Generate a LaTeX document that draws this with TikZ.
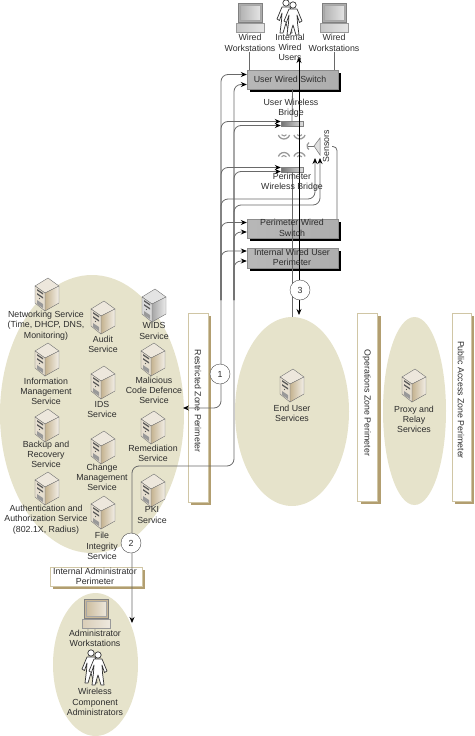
\documentclass[tikz,border=0pt]{standalone}
\usepackage{fontspec}
\setmainfont{Liberation Sans}
\usetikzlibrary{arrows.meta,shapes.geometric}

\definecolor{zonec}{RGB}{230,227,203}
\definecolor{tanc}{RGB}{178,158,112}
\definecolor{edgec}{RGB}{208,198,165}
\definecolor{linec}{RGB}{105,105,105}
\definecolor{textc}{RGB}{45,45,45}
\definecolor{cased}{RGB}{172,146,96}
\definecolor{caseg}{RGB}{128,128,128}

\tikzset{
  pics/server/.style={code={
    \fill[#1!22!white,draw=black!55,line width=.4pt] (-12,-8) -- (1,-16) -- (12,-8) -- (-2,-1) -- cycle;
    \shade[left color=#1!70!white,right color=#1!15!white,draw=black!55,line width=.4pt]
      (-2,-1) -- (12,-8) -- (12,9) -- (-2,17) -- cycle;
    \fill[#1!30!white,draw=black!55,line width=.4pt] (-12,-8) -- (-2,-1) -- (-2,17) -- (-12,9) -- cycle;
    \fill[black!65] (-10,-5) -- (-4,-1) -- (-4,.5) -- (-10,-3.5) -- cycle;
    \fill[black!65] (-10,-1) -- (-4,3) -- (-4,4.5) -- (-10,.5) -- cycle;
    \fill[black!65] (-7.5,4.5) circle (.7pt);
    \fill[black!40] (-10,6) -- (-4,10) -- (-4,14) -- (-10,10) -- cycle;
  }},
  pics/monitor/.style={code={
    \fill[#1!65!white,draw=black!50,line width=.4pt] (-12,-14) rectangle (12,5);
    \shade[left color=#1!60!white,right color=#1!22!white,draw=black!35,line width=.3pt] (-10,-12) rectangle (10,3);
    \shade[left color=#1!45!white,right color=#1!20!white,draw=black!40,line width=.3pt] (-14,6.5) rectangle (14,15);
  }},
  pics/person/.style={code={
    \filldraw[fill=white,draw=black!80,line width=.7pt] (0,3) circle (3.2pt);
    \filldraw[fill=white,draw=black!80,line width=.7pt,line join=round]
      (-4,7) -- (4,7) -- (9,19) -- (6.5,20.5) -- (4,13) -- (4.5,21) -- (6,33) -- (3,33)
      -- (0,23) -- (-3,33) -- (-6,33) -- (-4.5,21) -- (-4,13) -- (-6.5,20.5) -- (-9,19) -- cycle;
  }},
  pics/smile/.style={code={
    \draw[black!40,line width=1.3pt] (200:6pt) arc[start angle=200,end angle=340,radius=6pt];
    \draw[black!40,line width=1.1pt] (215:3pt) arc[start angle=215,end angle=325,radius=3pt];
  }},
  pics/frown/.style={code={
    \draw[black!40,line width=1.3pt] (20:6pt) arc[start angle=20,end angle=160,radius=6pt];
    \draw[black!40,line width=1.1pt] (35:3pt) arc[start angle=35,end angle=145,radius=3pt];
  }},
  pics/sensorhead/.style={code={
    \draw[black!40,line width=1.2pt] (120:4pt) arc[start angle=120,end angle=240,radius=4pt];
    \draw[black!55,line width=.6pt] (-3,0) -- (3,0);
    \filldraw[fill=black!12,draw=black!55,line width=.5pt] (3,0) -- (9,-8) -- (9,9) -- cycle;
  }}
}

\begin{document}
\begin{tikzpicture}[
  x=1pt,y=-1pt,
  >={Stealth[length=6pt,width=5pt]},
  font=\fontsize{8.8}{10.3}\selectfont,
  zone/.style={ellipse,fill=zonec,inner sep=0pt},
  perim/.style={draw=edgec,fill=white,line width=.6pt,
    preaction={fill=tanc,transform canvas={xshift=3pt,yshift=-3pt}},
    inner sep=0pt},
  switchbox/.style={draw=black!45,
    preaction={fill=black,transform canvas={xshift=3pt,yshift=-3pt}},
    left color=black!28,middle color=black!8,right color=black!32,
    minimum width=91pt,inner sep=0pt},
  bridgebox/.style={draw=black!50,left color=black!55,right color=black!12,
    minimum width=22pt,minimum height=5pt,inner sep=0pt},
  lab/.style={text=textc,align=center,inner sep=0pt},
  num/.style={circle,draw=black!70,fill=white,minimum size=20pt,inner sep=0pt,text=textc},
  sig/.style={draw=linec,line width=.8pt,rounded corners=7pt,
    arrows={-{Stealth[length=6pt,width=5pt,color=black]}}},
  wire/.style={draw=linec,line width=.8pt,rounded corners=4pt},
  flow/.style={draw=black,line width=.7pt}]

  \useasboundingbox (0,0) rectangle (474,736);

  % zones
  \node[zone,minimum width=184pt,minimum height=278pt] (restrictedzone) at (92,414) {};
  \node[zone,minimum width=114pt,minimum height=189pt] (userzone) at (292,411.5) {};
  \node[zone,minimum width=63pt,minimum height=188pt] (proxyzone) at (414.5,411) {};
  \node[zone,minimum width=85pt,minimum height=143pt] (adminzone) at (95.5,664.5) {};

  % perimeters
  \node[perim,minimum width=20pt,minimum height=189pt] (restricted) at (198,407.5) {};
  \node[lab,rotate=-90] (restrictedlab) at (198,401) {Restricted Zone Perimeter};
  \node[perim,minimum width=20pt,minimum height=188pt] (operations) at (367.5,407) {};
  \node[lab,rotate=-90] (operationslab) at (367,403) {Operations Zone Perimeter};
  \node[perim,minimum width=19pt,minimum height=188pt] (public) at (461.5,407) {};
  \node[lab,rotate=-90] (publiclab) at (461,400) {Public Access Zone Perimeter};
  \node[perim,minimum width=92pt,minimum height=19pt] (adminperim) at (96,576.5) {};
  \node[lab] (adminperimlab) at (95,576) {Internal Administrator\\Perimeter};

  % user side
  \pic at (250,17) {monitor=caseg};
  \pic at (334,17) {monitor=caseg};
  \pic at (286,0) {person};
  \pic at (293,2) {person};
  \node[lab] (wsleft) at (250,43) {Wired\\Workstations};
  \node[lab] (wsright) at (334,43) {Wired\\Workstations};
  \node[lab] (users) at (290,47.5) {Internal\\Wired\\Users};

  % switches and bridges
  \node[switchbox,minimum height=19pt] (userswitch) at (292.5,79.5) {};
  \node[switchbox,minimum height=19pt] (perimswitch) at (292.5,228.5) {};
  \node[switchbox,minimum height=20pt] (intswitch) at (292.5,258) {};
  \node[bridgebox] (userbridge) at (292,123.5) {};
  \node[bridgebox] (perimbridge) at (292,169.5) {};

  \pic at (284,133) {smile};
  \pic at (299.5,133) {smile};
  \pic at (284,158.5) {frown};
  \pic at (299.5,158.5) {frown};

  % sensors
  \pic at (311,146) {sensorhead};

  % free ends
  \coordinate (trunka) at (221,300);
  \coordinate (trunkb) at (234,300);
  \coordinate (sensora) at (315,158);
  \coordinate (sensorb) at (320,158);
  \coordinate (turna) at (315,199);
  \coordinate (turnb) at (320,205);
  \coordinate (restrictedin) at (183,408);
  \coordinate (turnadmin) at (132,466);
  \coordinate (adminin) at (132,623);
  \coordinate (sensortail) at (332,146.5);
  \coordinate (sensorcorner) at (337,146.5);
  \coordinate (usersin) at (299,57);
  \coordinate (userin) at (299,315);

  % links up the two trunks
  \draw[sig] (trunka) |- ([yshift=5pt]userswitch.west);
  \draw[sig] (trunkb) |- ([yshift=-5pt]userswitch.west);
  \draw[sig] (trunka) |- ([yshift=2pt]userbridge.west);
  \draw[sig] (trunkb) |- ([yshift=-2pt]userbridge.west);
  \draw[sig] (trunka) |- ([yshift=2pt]perimbridge.west);
  \draw[sig] (trunkb) |- ([yshift=-2pt]perimbridge.west);
  \draw[sig] (trunka) |- (turna) -- (sensora);
  \draw[sig] (trunkb) |- (turnb) -- (sensorb);
  \draw[sig] (trunka) |- ([yshift=6pt]perimswitch.west);
  \draw[sig] (trunkb) |- ([yshift=-3.5pt]perimswitch.west);
  \draw[sig] (trunka) |- ([yshift=7pt]intswitch.west);
  \draw[sig] (trunkb) |- ([yshift=-3pt]intswitch.west);

  % links down
  \draw[sig] (trunka) |- (restrictedin);
  \draw[sig] (trunkb) |- (turnadmin) -- (adminin);

  % device wires
  \draw[wire] (wsleft.south -| userswitch.north west) ++(3,0) -- ([xshift=3pt]userswitch.north west);
  \draw[wire] (wsright.south -| userswitch.north east) ++(-4,0) -- ([xshift=-4pt]userswitch.north east);
  \draw[wire] (userswitch.south) -- (userbridge.north);
  \draw[wire] (perimbridge.south) -- (userzone.north);
  \draw[wire] (sensortail) -- (sensorcorner) -- (sensorcorner |- perimswitch.north);

  % flow through the perimeters
  \draw[flow,<->] (usersin) -- (userin);

  % labels on the devices
  \node[lab] (userswitchlab) at (290,79) {User Wired Switch};
  \node[lab] (userbridgelab) at (291,108) {User Wireless\\Bridge};
  \node[lab] (perimbridgelab) at (292,182.5) {Perimeter\\Wireless Bridge};
  \node[lab] (perimswitchlab) at (292,228) {Perimeter Wired\\Switch};
  \node[lab] (intswitchlab) at (292,257.5) {Internal Wired User\\Perimeter};
  \node[lab,rotate=90] (sensorlab) at (326,146) {Sensors};

  % numbers
  \node[num] (one) at (220,374) {1};
  \node[num] (two) at (131,543) {2};
  \node[num] (three) at (300,290) {3};

  % services in the restricted zone
  \pic at (47,294) {server=cased};
  \pic at (103,317) {server=cased};
  \pic at (154,305) {server=caseg};
  \pic at (47,359) {server=cased};
  \pic at (153,359) {server=cased};
  \pic at (103,382) {server=cased};
  \pic at (47,425) {server=cased};
  \pic at (153,427) {server=cased};
  \pic at (103,447) {server=cased};
  \pic at (47,488) {server=cased};
  \pic at (153,490) {server=cased};
  \pic at (103,512) {server=cased};
  \node[lab] (networking) at (46,325.5) {Networking Service\\(Time, DHCP, DNS,\\Monitoring)};
  \node[lab] (audit) at (103,344.5) {Audit\\Service};
  \node[lab] (wids) at (154,331) {WIDS\\Service};
  \node[lab] (information) at (46,391.5) {Information\\Management\\Service};
  \node[lab] (malicious) at (154,390.5) {Malicious\\Code Defence\\Service};
  \node[lab] (ids) at (102,409.5) {IDS\\Service};
  \node[lab] (backup) at (46,454.5) {Backup and\\Recovery\\Service};
  \node[lab] (remediation) at (153,453) {Remediation\\Service};
  \node[lab] (change) at (102,477.5) {Change\\Management\\Service};
  \node[lab] (auth) at (46,519.5) {Authentication and\\Authorization Service\\(802.1X, Radius)};
  \node[lab] (pki) at (152,515) {PKI\\Service};
  \node[lab] (file) at (102,546) {File\\Integrity\\Service};

  % end user and proxy services
  \pic at (292,385) {server=cased};
  \pic at (414,385) {server=cased};
  \node[lab] (enduser) at (292,413.5) {End User\\Services};
  \node[lab] (proxy) at (414,419.5) {Proxy and\\Relay\\Services};

  % administrators
  \pic at (96.5,613) {monitor=cased};
  \pic at (91,650) {person};
  \pic at (98,652) {person};
  \node[lab] (adminws) at (95,638) {Administrator\\Workstations};
  \node[lab] (admins) at (95,702) {Wireless\\Component\\Administrators};
\end{tikzpicture}
\end{document}
